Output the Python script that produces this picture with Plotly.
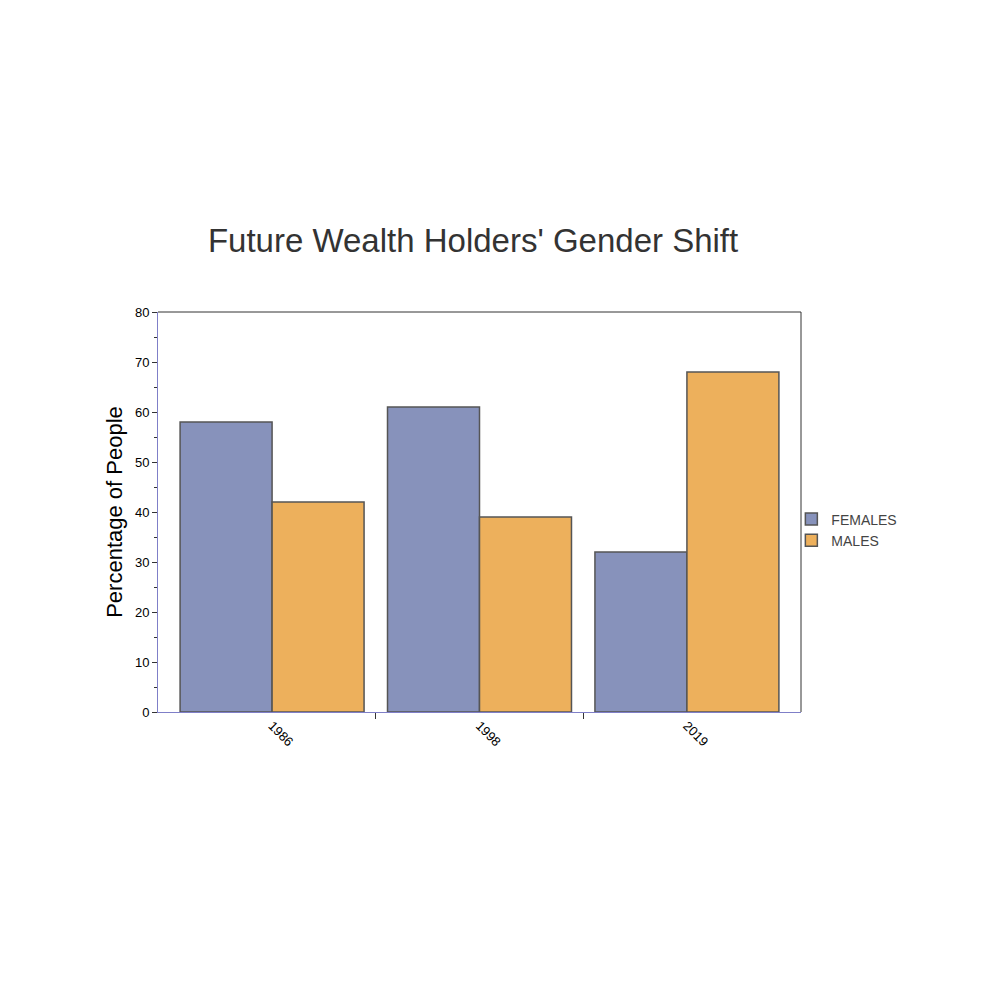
import plotly.graph_objects as go

# data
years = ["1986", "1998", "2019"]
females = [58, 61, 32]
males = [42, 39, 68]

title = "Future Wealth Holders' Gender Shift"
y_title = "Percentage of People"

pos = list(range(len(years)))  # category slots on a linear axis
bounds = [p + 0.5 for p in pos[:-1]]  # ticks between categories only

fig = go.Figure()
fig.add_trace(go.Bar(
    x=pos, y=females, name="FEMALES",
    marker=dict(color="#8792bb", line=dict(color="#555555", width=1.5)),
))
fig.add_trace(go.Bar(
    x=pos, y=males, name="MALES",
    marker=dict(color="#edb05c", line=dict(color="#555555", width=1.5)),
))

# top / right frame of the plot box (left and bottom are the blue axis lines)
fig.add_shape(type="line", xref="paper", yref="paper", x0=0, x1=1, y0=1, y1=1,
              line=dict(color="#333333", width=1))
fig.add_shape(type="line", xref="paper", yref="paper", x0=1, x1=1, y0=0, y1=1,
              line=dict(color="#333333", width=1))

fig.update_layout(
    width=1000, height=1000,
    paper_bgcolor="white", plot_bgcolor="white",
    font=dict(family="Liberation Sans, Arial, sans-serif", color="#000000"),
    title=dict(text=title, x=0.49, xref="paper", y=0.768, yanchor="middle",
               font=dict(size=33, color="#333333")),
    margin=dict(l=150, r=207, t=304, b=296),
    barmode="group", bargap=0.113, bargroupgap=0,
    showlegend=True,
    legend=dict(x=0.985, xref="paper", y=0.455, xanchor="left", yanchor="middle",
                font=dict(size=14, color="#444444"), tracegroupgap=0,
                itemwidth=30, bgcolor="rgba(0,0,0,0)"),
)
fig.update_xaxes(
    range=[-0.55, len(years) - 0.45],
    tickvals=pos, ticktext=years, ticks="",
    minor=dict(tickvals=bounds, ticks="outside", ticklen=6, tickcolor="#333333"),
    showline=True, linecolor="#7f7fc8", linewidth=1,
    tickangle=45, tickfont=dict(size=13), showgrid=False, zeroline=False,
)
fig.update_yaxes(
    range=[0, 80], dtick=10, showline=True, linecolor="#7f7fc8", linewidth=1,
    ticks="outside", ticklen=5, tickcolor="#333333", tickfont=dict(size=13),
    minor=dict(dtick=5, ticks="outside", ticklen=3, tickcolor="#333333"),
    showgrid=False, zeroline=False,
    title=dict(text=y_title, font=dict(size=22), standoff=6),
)

fig.write_html("out.html")
